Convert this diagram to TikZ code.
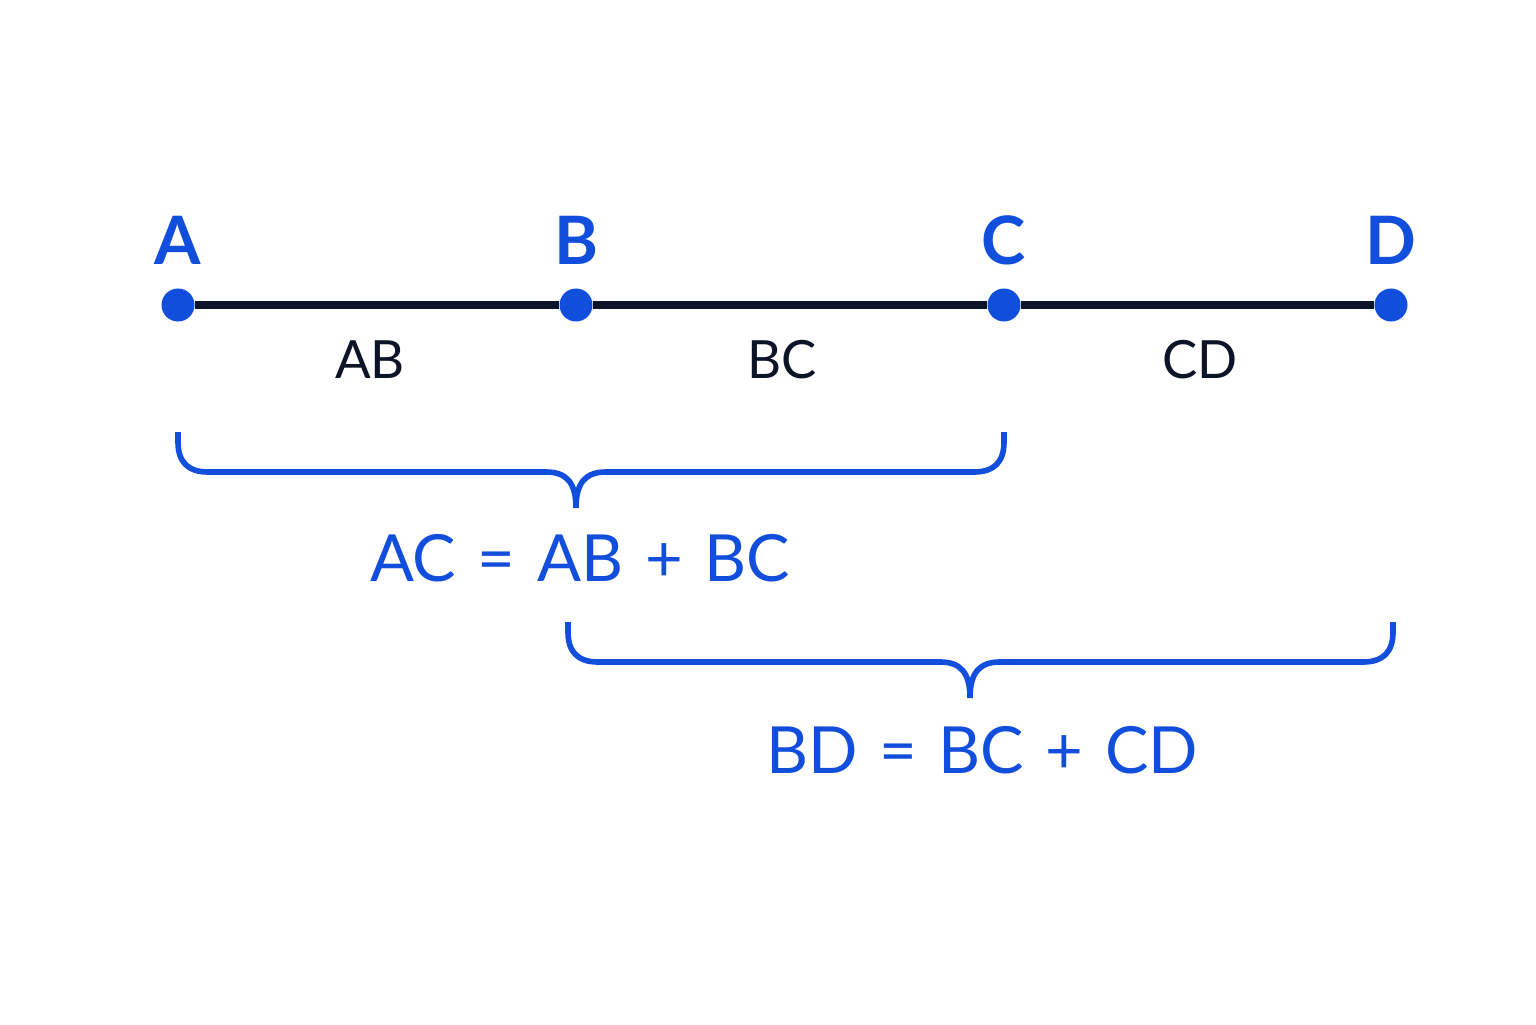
\documentclass[tikz,border=0pt]{standalone}
\usepackage{fontspec}
\setmainfont{Lato}
\usepackage{tikz}
\usetikzlibrary{calc}
\definecolor{ptblue}{RGB}{18,78,220}
\definecolor{ink}{RGB}{12,20,40}
\def\bracepath[#1](#2,#3,#4,#5) {\draw[#1] (#2,#5) -- (#2,#5-0.1) .. controls (#2,#5-0.3) and (#2+0.1,#5-0.4) .. (#2+0.3,#5-0.4) -- (#3-0.3,#5-0.4) .. controls (#3-0.1,#5-0.4) and (#3,#5-0.5) .. (#3,#5-0.76) .. controls (#3,#5-0.5) and (#3+0.1,#5-0.4) .. (#3+0.3,#5-0.4) -- (#4-0.3,#5-0.4) .. controls (#4-0.1,#5-0.4) and (#4,#5-0.3) .. (#4,#5-0.1) -- (#4,#5);}

\begin{document}
\begin{tikzpicture}[
	pt/.style={circle,fill=ptblue,inner sep=0pt,minimum size=0.33cm},
	ptname/.style={text=ptblue,font=\fontsize{19}{19}\selectfont\bfseries},
	seg/.style={text=ink,font=\fontsize{15}{15}\selectfont},
	eq/.style={text=ptblue,font=\fontsize{18.5}{18.5}\selectfont}]
	\useasboundingbox[fill=white] (0,0) rectangle (15.36,10.24);
	%POINTS
	\node[pt] (A) at (1.78,7.19) {};
	\node[pt] (B) at (5.76,7.19) {};
	\node[pt] (C) at (10.04,7.19) {};
	\node[pt] (D) at (13.91,7.19) {};
	\draw[ink,line width=2.2pt] (A) -- (B) -- (C) -- (D);
	%
	\node[ptname] (lA) at (1.78,7.84) {A};
	\node[ptname] (lB) at (5.76,7.84) {B};
	\node[ptname] (lC) at (10.04,7.84) {C};
	\node[ptname] (lD) at (13.91,7.84) {D};
	%SEGMENTS
	\node[seg] (sAB) at (3.70,6.64) {AB};
	\node[seg] (sBC) at (7.82,6.64) {BC};
	\node[seg] (sCD) at (12.00,6.64) {CD};
	%BRACES
	\bracepath[ptblue,line width=1.6pt](1.78,5.76,10.04,5.92)
	\bracepath[ptblue,line width=1.6pt](5.68,9.70,13.93,4.02)
	%
	\node[eq] (eqAC) at (5.80,4.66) {AC\,\,=\,\,AB\,\,+\,\,BC};
	\node[eq] (eqBD) at (9.82,2.74) {BD\,\,=\,\,BC\,\,+\,\,CD};
\end{tikzpicture}
\end{document}
